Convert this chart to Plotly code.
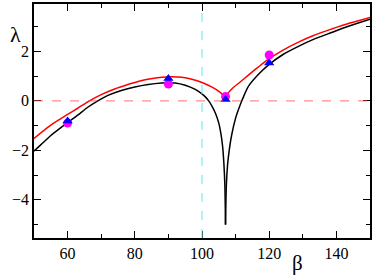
import plotly.graph_objects as go

# curve readings (beta, lambda), split at the dip / cusp near beta = 107
black_left_beta = [50, 52, 55, 58, 60, 63, 66, 69, 72, 76, 80, 84, 88, 90, 92, 95, 98, 100,
                   101, 102, 103, 104, 105, 105.6, 106.1, 106.5, 106.8, 107.0]
black_left_lam = [-2.03, -1.78, -1.4, -1.08, -0.88, -0.58, -0.26, 0.0, 0.22, 0.42, 0.56, 0.66,
                  0.72, 0.73, 0.72, 0.63, 0.46, 0.28, 0.16, 0.0, -0.22, -0.5, -0.9, -1.3,
                  -1.8, -2.5, -3.4, -5.0]
black_right_beta = [107.0, 107.25, 107.6, 108.1, 108.8, 110, 111, 112, 113.9, 116.9, 120, 124,
                    128.7, 133, 138.6, 144, 150]
black_right_lam = [-5.0, -3.4, -2.6, -2.0, -1.4, -0.7, -0.3, 0.05, 0.6, 1.08, 1.47, 1.86,
                   2.2, 2.47, 2.76, 3.03, 3.3]

red_left_beta = [50, 55, 60, 63, 66.5, 70, 74, 77.5, 81, 84.3, 88, 91, 94, 97, 100, 103, 105, 107]
red_left_lam = [-1.52, -0.98, -0.55, -0.3, 0.0, 0.25, 0.48, 0.64, 0.78, 0.88, 0.95, 0.97, 0.95,
                0.87, 0.74, 0.55, 0.38, 0.15]
red_right_beta = [107, 108, 109, 111, 113.9, 116.9, 120, 124, 128.7, 133, 138.6, 144, 150]
red_right_lam = [0.15, 0.35, 0.5, 0.72, 1.05, 1.38, 1.7, 2.04, 2.37, 2.63, 2.9, 3.14, 3.37]

# sampled points
pts_beta = [60, 90, 107, 120]
circle_lam = [-0.9, 0.68, 0.17, 1.85]
tri_lam = [-0.82, 0.9, 0.05, 1.53]

x_ticks = [60, 80, 100, 120, 140]
y_ticks = [-4, -2, 0, 2]

fig = go.Figure()

fig.add_hline(y=0, line=dict(color="rgba(255,80,80,0.65)", width=1.3, dash="dash"))
fig.add_vline(x=100, line=dict(color="#5ee8f0", width=1, dash="dash"))

for xs, ys, col in [(black_left_beta, black_left_lam, "black"),
                    (black_right_beta, black_right_lam, "black"),
                    (red_left_beta, red_left_lam, "#ff0000"),
                    (red_right_beta, red_right_lam, "#ff0000")]:
    fig.add_trace(go.Scatter(x=xs, y=ys, mode="lines",
                             line=dict(color=col, width=1.5, shape="spline", smoothing=0.8)))

fig.add_trace(go.Scatter(x=pts_beta, y=circle_lam, mode="markers",
                         marker=dict(symbol="circle", size=9, color="#ff00ff")))
fig.add_trace(go.Scatter(x=pts_beta, y=tri_lam, mode="markers",
                         marker=dict(symbol="triangle-up", size=9, color="#0000ff")))

axis_font = dict(family="Liberation Serif", size=16, color="black")

fig.update_xaxes(range=[50, 150], tickvals=x_ticks, ticks="inside", ticklen=7,
                 tickwidth=1.3, tickcolor="black", showline=True, linecolor="black",
                 linewidth=1.5, mirror="ticks", showgrid=False, zeroline=False,
                 tickfont=axis_font,
                 minor=dict(ticks="inside", ticklen=4, dtick=10, tick0=50,
                            tickcolor="black", showgrid=False))
fig.update_yaxes(range=[-5.54, 3.91], tickvals=y_ticks, ticks="inside", ticklen=7,
                 tickwidth=1.3, tickcolor="black", showline=True, linecolor="black",
                 linewidth=1.5, mirror="ticks", showgrid=False, zeroline=False,
                 tickfont=axis_font,
                 minor=dict(ticks="inside", ticklen=4, dtick=1, tick0=-5,
                            tickcolor="black", showgrid=False))

fig.add_annotation(text="λ", xref="paper", yref="paper", x=-0.077, y=0.93,
                   showarrow=False,
                   font=dict(family="Liberation Serif", size=22, color="black"))
fig.add_annotation(text="β", xref="paper", yref="paper", x=0.807, y=-0.106,
                   showarrow=False, yanchor="middle",
                   font=dict(family="Liberation Serif", size=21, color="black"))

fig.update_layout(
    width=374, height=277,
    margin=dict(l=34, r=2, t=2, b=39),
    plot_bgcolor="white", paper_bgcolor="white",
    showlegend=False,
)

fig.write_html("out.html", config={"displayModeBar": False},
               post_script="document.body.style.margin='0';")
